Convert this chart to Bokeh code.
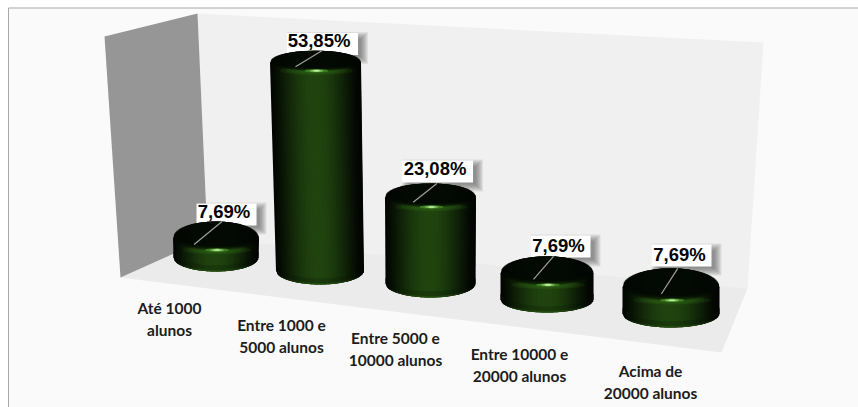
import numpy as np
from bokeh.core.properties import value
from bokeh.embed import file_html
from bokeh.models import Range1d
from bokeh.plotting import figure
from bokeh.resources import INLINE

categories = ["Até 1000\nalunos", "Entre 1000 e\n5000 alunos", "Entre 5000 e\n10000 alunos",
              "Entre 10000 e\n20000 alunos", "Acima de\n20000 alunos"]
percent = [7.69, 53.85, 23.08, 7.69, 7.69]
percent_labels = ["7,69%", "53,85%", "23,08%", "7,69%", "7,69%"]

# Perspective placement of each column on the floor of the 3D scene
base_cx = [215.5, 319.5, 430, 546.5, 670.5]
base_y = [257, 270, 283, 299, 313]
base_rx = [42.5, 44, 45, 46.5, 48.5]
base_ry = [14, 14, 14, 13, 14]
top_lean = [0, -4.5, 0, 0, 0]
top_rx = [43, 45.5, 45.5, 46.5, 48.5]
top_ry = [17, 12, 14, 17, 19]
px_per_pct = [2.47, 3.86, 3.73, 3.4, 3.4]
leader_start = [-0.51, -0.44, -0.38, -0.29, -0.2]

# Centre of each value plate and of each text block
plate_cx = [226, 322, 437, 560, 681]
plate_cy = [214, 43.5, 171, 246, 255]
value_x = [223.5, 318.5, 434.5, 558, 679]
value_y = [211, 40, 168, 245, 254]
cat_x = [169, 281, 395, 519, 650]
cat_y = [318.5, 335.5, 348.5, 364.5, 381.5]

W, H = 858, 407
p = figure(width=W, height=H, output_backend="svg", toolbar_location=None,
           x_range=Range1d(0, W), y_range=Range1d(H, 0), min_border=0,
           outline_line_color=None, background_fill_color="white", border_fill_color="white")
p.xaxis.visible = False
p.yaxis.visible = False
p.xgrid.visible = False
p.ygrid.visible = False

# Picture frame
p.quad(left=8, right=W, top=7, bottom=H, fill_color="#fafafa", line_color=None)
p.line([8, 8, W], [H, 7.5, 7.5], line_color="#a8a8a8", line_width=1)

# Walls and floor of the chart box
p.patch([197, 763, 747, 207], [13, 42, 288, 238], fill_color="#f0f0f0", line_color=None)
p.patch([207, 747, 721, 120], [238, 288, 352, 277], fill_color="#ebebeb", line_color=None)
p.patch([104, 197, 207, 120], [36, 13, 238, 277], fill_color="#969696", line_color=None)


def mix(a, b, t):
    ca = np.array([int(a[i:i + 2], 16) for i in (1, 3, 5)], float)
    cb = np.array([int(b[i:i + 2], 16) for i in (1, 3, 5)], float)
    c = ca + (cb - ca) * float(np.clip(t, 0, 1))
    return "#%02x%02x%02x" % tuple(int(round(v)) for v in c)


def body_shade(u):
    # Bright across the middle of the cylinder, falling to black at both sides
    d = min(abs(u + 0.03), 1.0)
    return mix("#020502", "#20440f", (1 - d ** 2) ** 1.6)


def draw_column(i, pct):
    cxb, yb, rxb, rxt = base_cx[i], base_y[i], base_rx[i], top_rx[i]
    rb, r = base_ry[i], top_ry[i]
    cxt = cxb + top_lean[i]
    yt = yb - pct * px_per_pct[i]

    # Cylinder silhouette, drawn as narrow vertical strips between the elliptical ends
    edges = np.linspace(-1, 1, 71)
    xs, ys, cols = [], [], []
    rim_xs, rim_ys, rim_cols = [], [], []
    for u0, u1 in zip(edges[:-1], edges[1:]):
        um = (u0 + u1) / 2
        u1b = min(u1 + 0.02, 1.0)
        s0 = np.sqrt(max(1 - u0 ** 2, 0))
        s1 = np.sqrt(max(1 - u1b ** 2, 0))
        xs.append([cxt + u0 * rxt, cxt + u1b * rxt, cxb + u1b * rxb, cxb + u0 * rxb])
        ys.append([yt - r * s0, yt - r * s1, yb + rb * s1, yb + rb * s0])
        cols.append(body_shade(um))
        # Slight darkening above the base edge, then a thin lit line
        for d0, d1, strength, tone in ((6, 1.5, 0.22, "#061004"), (1.5, 0, 0.3, "#2a5a14")):
            rim_xs.append([cxb + u0 * rxb, cxb + u1b * rxb, cxb + u1b * rxb, cxb + u0 * rxb])
            rim_ys.append([yb + rb * s0 - d0, yb + rb * s1 - d0, yb + rb * s1 - d1, yb + rb * s0 - d1])
            rim_cols.append(mix(body_shade(um), tone, strength * (1 - abs(um) ** 3)))
    p.patches(xs, ys, fill_color=cols, line_color=None)
    p.patches(rim_xs, rim_ys, fill_color=rim_cols, line_color=None)

    # Glow along the front of the bevel
    spot_y = yt + r * 0.68
    for k in range(5):
        p.ellipse(cxt + 1, spot_y, width=2 * rxt * (0.8 - 0.12 * k), height=9 - k, fill_color="#2f6a18",
                  fill_alpha=0.16, line_color=None)

    # Dark top face with a soft edge, its back edge flush with the silhouette
    n = 9
    for k in range(n):
        t = k / (n - 1)
        front = r * (0.72 - 0.32 * t)
        p.ellipse(cxt, yt + (front - r) / 2, width=2 * rxt * (0.99 - 0.15 * t), height=r + front,
                  fill_color="#030703", fill_alpha=0.26, line_color=None)

    # Specular spot on the front of the bevel
    for w, h, c in ((24, 3.4, "#3f7d24"), (14, 2.6, "#74b850"), (7, 1.6, "#c8eeb0")):
        p.ellipse(cxt + 1, spot_y, width=w, height=h, fill_color=c, line_color=None)

    # Leader line from the top face to the plate
    p.line([cxt + leader_start[i] * rxt, cxt + 0.14 * rxt], [yt + 0.35 * r, yt - r],
           line_color="#a0a0a0", line_width=1.2)


def plate_half(label):
    return 35.5 if len(label) > 5 else 30


# Value plates with a soft shadow sit behind the columns
for i, label in enumerate(percent_labels):
    lx, ly, half = plate_cx[i], plate_cy[i], plate_half(label)
    for g in range(5, -3, -1):
        p.quad(left=lx + 5 - half - g, right=lx + half + 5 + g, top=ly - 7 - g, bottom=ly + 15 + g,
               fill_color="#4a4a4a", fill_alpha=0.10, line_color=None)
    p.quad(left=lx - half, right=lx + half, top=ly - 11, bottom=ly + 11, fill_color="white", line_color=None)

for i, pct in enumerate(percent):
    draw_column(i, pct)

for i, label in enumerate(percent_labels):
    p.text([value_x[i]], [value_y[i]], text=[label], text_font=value("Liberation Sans"),
           text_font_style="bold", text_font_size="18.5px", text_color="#050505",
           text_align="center", text_baseline="middle")

# Category captions below the floor
p.text(cat_x, cat_y, text=categories, text_font=value("Lato"), text_font_style="bold",
       text_font_size="15.5px", text_color="#1c1c1c", text_align="center",
       text_baseline="middle", text_line_height=1.27)

open("out.html", "w").write(file_html(p, INLINE))
